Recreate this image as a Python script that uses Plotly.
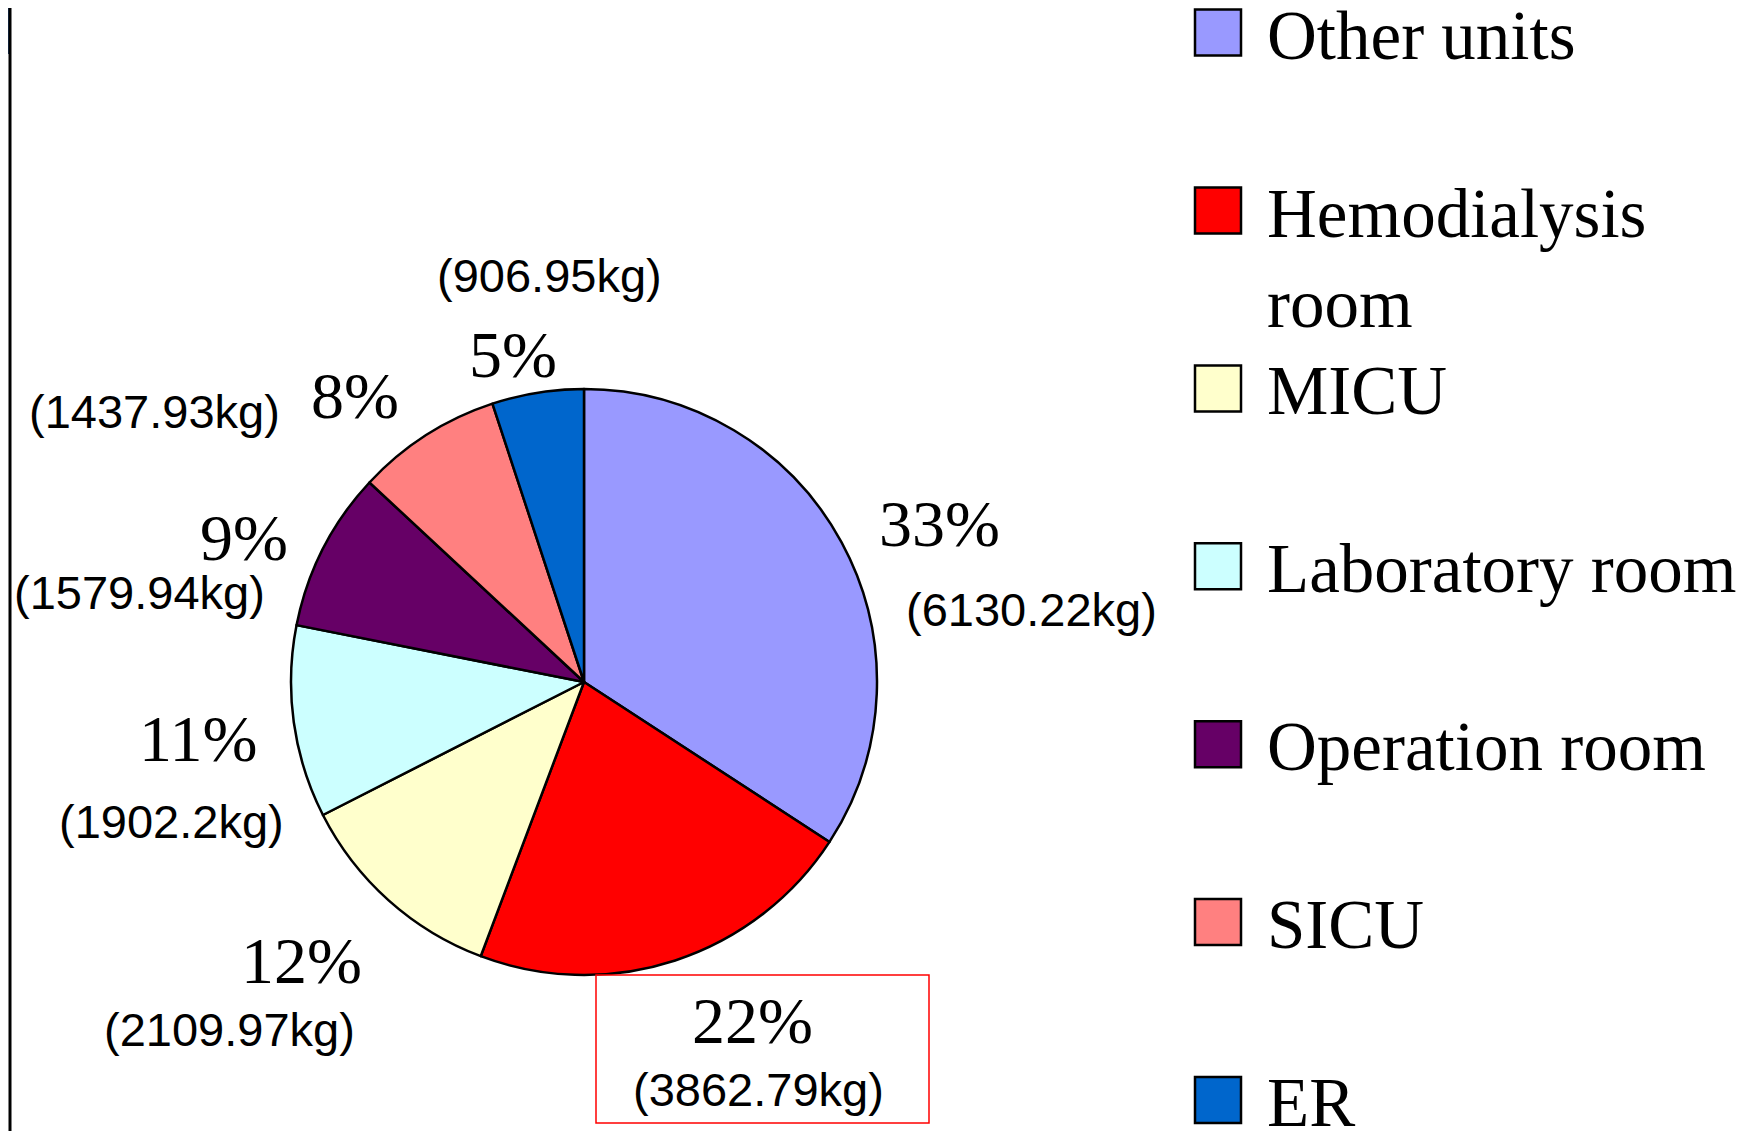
import plotly.graph_objects as go

# data
units = ["Other units", "Hemodialysis room", "MICU", "Laboratory room",
         "Operation room", "SICU", "ER"]
weights_kg = [6130.22, 3862.79, 2109.97, 1902.2, 1579.94, 1437.93, 906.95]
pct_labels = ["33%", "22%", "12%", "11%", "9%", "8%", "5%"]
colors = ["#9999FF", "#FF0000", "#FFFFCC", "#CCFFFF", "#660066", "#FF8080", "#0066CC"]
legend_text = ["Other units", "Hemodialysis<br>room", "MICU", "Laboratory room",
               "Operation room", "SICU", "ER"]

W, H = 1761, 1131
OFF = 8  # page body margin, so axis units below are screen pixels
SERIF = "Liberation Serif, Times New Roman, serif"
SANS = "Liberation Sans, Arial, sans-serif"

# label placement (screen pixels): (pct x, pct y, kg x, kg y)
label_pos = [
    (939, 523, 1031, 609),
    (752, 1020, 758, 1089),
    (301, 960, 229, 1029),
    (198, 738, 171, 821),
    (244, 537, 139, 592),
    (355, 395, 154, 411),
    (513, 354, 549, 275),
]

cx, cy, r = 584, 682, 293
dx0, dy0 = cx - OFF, cy - OFF

fig = go.Figure()
fig.add_trace(go.Pie(
    labels=units, values=weights_kg, sort=False, direction="clockwise", rotation=0,
    marker=dict(colors=colors, line=dict(color="black", width=2.5)),
    textinfo="none", showlegend=False, hoverinfo="label+value+percent",
    domain=dict(x=[(dx0 - r) / W, (dx0 + r) / W], y=[(H - dy0 - r) / H, (H - dy0 + r) / H]),
))

# legend built as square markers on a pixel-unit axis
leg_top, leg_step = 32.6, 177.9
leg_y = [leg_top + i * leg_step for i in range(len(units))]
fig.add_trace(go.Scatter(
    x=[1218] * len(units), y=leg_y, mode="markers", showlegend=False, hoverinfo="skip",
    marker=dict(symbol="square", size=46, color=colors, line=dict(color="black", width=2.5)),
))

ann = []
for txt, y in zip(legend_text, leg_y):
    ann.append(dict(x=1265, y=y, xref="x", yref="y", text=txt, showarrow=False,
                    xanchor="left", yanchor="top", yshift=37, align="left",
                    font=dict(family=SERIF, size=69, color="black")))
for pct, kg, (px_, py_, kx, ky) in zip(pct_labels, weights_kg, label_pos):
    ann.append(dict(x=px_, y=py_, xref="x", yref="y", text=pct, showarrow=False,
                    font=dict(family=SERIF, size=66, color="black")))
    ann.append(dict(x=kx, y=ky, xref="x", yref="y", text=f"({kg:g}kg)", showarrow=False,
                    font=dict(family=SANS, size=47, color="black")))

shapes = [
    dict(type="rect", xref="x", yref="y", x0=596, x1=929, y0=975, y1=1123,
         line=dict(color="red", width=1.5)),
    dict(type="rect", xref="x", yref="y", x0=OFF, x1=9, y0=OFF, y1=54,
         line=dict(width=0), fillcolor="#1F3F6B"),
    dict(type="line", xref="x", yref="y", x0=10, x1=10, y0=OFF, y1=H + OFF,
         line=dict(color="black", width=3)),
]

fig.update_layout(
    width=W, height=H, margin=dict(l=0, r=0, t=0, b=0),
    paper_bgcolor="white", plot_bgcolor="white",
    xaxis=dict(range=[OFF, W + OFF], visible=False, fixedrange=True),
    yaxis=dict(range=[H + OFF, OFF], visible=False, fixedrange=True),
    annotations=ann, shapes=shapes,
)

fig.write_html("out.html")
